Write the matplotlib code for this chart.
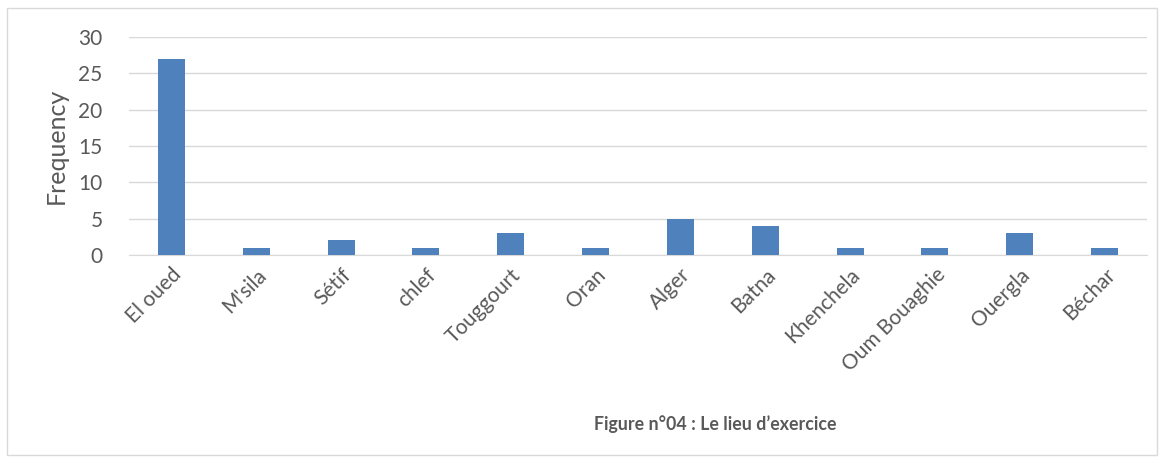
import matplotlib
matplotlib.use("Agg")
import matplotlib.pyplot as plt
from matplotlib.patches import Rectangle

categories = ["El oued", "M'sila", "Sétif", "chlef", "Touggourt", "Oran", "Alger",
              "Batna", "Khenchela", "Oum Bouaghie", "Ouergla", "Béchar"]
values = [27, 1, 2, 1, 3, 1, 5, 4, 1, 1, 3, 1]
yticks = [0, 5, 10, 15, 20, 25, 30]
title = "Figure n°04 : Le lieu d\u2019exercice"

W, H = 1164, 463
fig = plt.figure(figsize=(W / 100, H / 100), dpi=100)
plt.rcParams['font.family'] = ['Lato', 'DejaVu Sans']
txt = "#595959"

fig.patches.append(Rectangle((7 / W, 1 - 455 / H), (1157 - 7) / W, (455 - 8) / H,
                             transform=fig.transFigure, fill=False,
                             edgecolor="#d9d9d9", linewidth=1))

ax = fig.add_axes([129 / W, 1 - 255 / H, (1147 - 129) / W, (255 - 37) / H])
x = list(range(len(categories)))
ax.bar(x, values, width=0.32, color="#4f81bd", zorder=3)
ax.set_xlim(-0.5, len(categories) - 0.5)
ax.set_ylim(0, 30)
ax.set_yticks(yticks)
ax.yaxis.grid(True, color="#d9d9d9", linewidth=1, zorder=0)
for s in ["top", "right", "left"]:
    ax.spines[s].set_visible(False)
ax.spines["bottom"].set_color("#d9d9d9")
ax.tick_params(axis="both", length=0, labelsize=15, colors=txt)
ax.tick_params(axis="y", pad=19)
ax.set_xticks(x)
ax.set_xticklabels(categories, rotation=45, ha="right", rotation_mode="anchor")
ax.tick_params(axis="x", pad=7)
ax.set_ylabel("Frequency", fontsize=18, color=txt, labelpad=8)

fig.text(715 / W, 1 - 424 / H, title, ha="center", va="center",
         fontsize=12.8, fontweight="bold", color=txt)

fig.savefig("out.png", dpi=100)
